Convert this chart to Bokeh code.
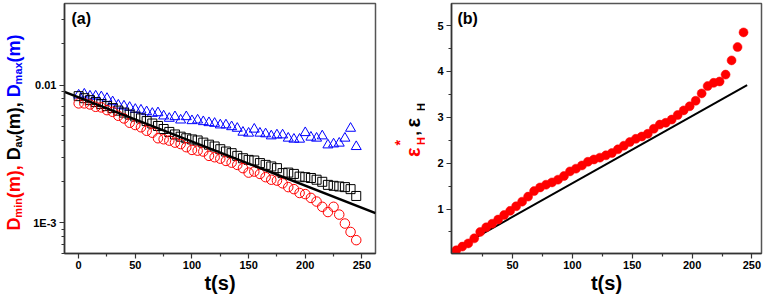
from bokeh.plotting import figure
from bokeh.models import Range1d, FixedTicker, Label
from bokeh.layouts import row
from bokeh.core.properties import value
from bokeh.embed import file_html
from bokeh.resources import INLINE

# ---------------- data ----------------
t_a = [0, 5, 10, 15, 20, 25, 30, 35, 40, 45, 50, 55, 60, 65, 70, 75, 80, 85, 90, 95,
       100, 105, 110, 115, 120, 125, 130, 135, 140, 145, 150, 155, 160, 165, 170, 175,
       180, 185, 190, 195, 200, 205, 210, 215, 220, 225, 230, 235, 240, 245]
d_min = [0.00738, 0.00738, 0.00725, 0.00697, 0.00690, 0.00659, 0.00641, 0.00600, 0.00574, 0.00534,
         0.00514, 0.00495, 0.00467, 0.00452, 0.00412, 0.00405, 0.00396, 0.00383, 0.00374, 0.00355,
         0.00339, 0.00335, 0.00330, 0.00307, 0.00300, 0.00293, 0.00282, 0.00274, 0.00264, 0.00250,
         0.00232, 0.00236, 0.00227, 0.00215, 0.00206, 0.00203, 0.00194, 0.00182, 0.00176, 0.00165,
         0.00162, 0.00152, 0.00143, 0.00131, 0.00120, 0.00131, 0.00115, 0.00099, 0.00086, 0.00075]
d_av = [0.00833, 0.00805, 0.00779, 0.00754, 0.00729, 0.00705, 0.00682, 0.00654, 0.00633, 0.00612,
        0.00592, 0.00574, 0.00549, 0.00527, 0.00506, 0.00481, 0.00458, 0.00439, 0.00423, 0.00412,
        0.00404, 0.00397, 0.00383, 0.00370, 0.00359, 0.00343, 0.00330, 0.00321, 0.00307, 0.00295,
        0.00287, 0.00284, 0.00272, 0.00264, 0.00257, 0.00250, 0.00230, 0.00232, 0.00227, 0.00217,
        0.00215, 0.00212, 0.00206, 0.00199, 0.00189, 0.00186, 0.00184, 0.00182, 0.00176, 0.00157]
d_max = [0.00847, 0.00861, 0.00833, 0.00833, 0.00823, 0.00801, 0.00757, 0.00716, 0.00705, 0.00690,
         0.00667, 0.00659, 0.00641, 0.00624, 0.00630, 0.00597, 0.00574, 0.00590, 0.00558, 0.00590,
         0.00552, 0.00558, 0.00543, 0.00534, 0.00528, 0.00514, 0.00514, 0.00499, 0.00486, 0.00455,
         0.00448, 0.00479, 0.00448, 0.00443, 0.00428, 0.00435, 0.00435, 0.00412, 0.00405, 0.00405,
         0.00452, 0.00419, 0.00412, 0.00428, 0.00368, 0.00374, 0.00379, 0.00412, 0.00486, 0.00358]
fit_a_t = [-12.5, 262]
fit_a_d = [0.00895, 0.00118]

t_b = [3, 8, 13, 18, 23, 28, 33, 38, 43, 48, 53, 58, 63, 68, 73, 78, 83, 88, 93, 98,
       103, 108, 113, 118, 123, 128, 133, 138, 143, 148, 153, 158, 163, 168, 173, 178,
       183, 188, 193, 198, 203, 208, 213, 218, 223, 228, 233, 238, 243]
eps_star = [0.10, 0.18, 0.25, 0.36, 0.50, 0.60, 0.68, 0.77, 0.87, 0.96,
            1.06, 1.16, 1.27, 1.39, 1.47, 1.53, 1.58, 1.64, 1.72, 1.82,
            1.88, 1.95, 2.03, 2.08, 2.12, 2.17, 2.22, 2.30, 2.38, 2.46,
            2.53, 2.58, 2.64, 2.75, 2.84, 2.88, 2.95, 3.05, 3.15, 3.24,
            3.36, 3.52, 3.68, 3.75, 3.78, 3.93, 4.24, 4.53, 4.85]
fit_b_t = [3, 246]
fit_b_e = [0.14, 3.70]

xa_ticks = [0, 50, 100, 150, 200, 250]
xa_minor = [25, 75, 125, 175, 225]
ya_ticks = [0.001, 0.01]
ya_labels = {0.001: "1E-3", 0.01: "0.01"}
ya_minor = [0.0006, 0.0007, 0.0008, 0.0009, 0.002, 0.003, 0.004, 0.005, 0.006, 0.007,
            0.008, 0.009, 0.02, 0.03]
xb_ticks = [50, 100, 150, 200, 250]
xb_minor = [25, 75, 125, 175, 225]
yb_ticks = [1, 2, 3, 4, 5]
yb_minor = [0.5, 1.5, 2.5, 3.5, 4.5]

FONT = "Liberation Sans"
RED = "#ff0000"
BLUE = "#0000ff"
H = 296
MB_TOP, MB_BOT = 3, 42
R = 1.5708


def style(p, xt, xm, yt, ym):
    p.grid.visible = False
    p.background_fill_color = "white"
    p.border_fill_color = "white"
    p.outline_line_color = "#555555"
    p.outline_line_width = 1.5
    p.xaxis.ticker = FixedTicker(ticks=xt, minor_ticks=xm)
    p.yaxis.ticker = FixedTicker(ticks=yt, minor_ticks=ym)
    for ax in p.axis:
        ax.axis_line_color = "#333333"
        ax.axis_line_width = 1.5
        ax.major_tick_line_color = "#333333"
        ax.minor_tick_line_color = "#333333"
        ax.major_tick_line_width = 1.2
        ax.minor_tick_line_width = 1.2
        ax.major_tick_out = 5
        ax.major_tick_in = 0
        ax.minor_tick_out = 3
        ax.minor_tick_in = 0
        ax.major_label_text_font = FONT
        ax.major_label_text_font_style = "bold"
        ax.major_label_text_font_size = "11px"
        ax.major_label_text_color = "black"
    p.xaxis.major_label_standoff = 2
    p.yaxis.major_label_standoff = 3
    p.xaxis.axis_label = "t(s)"
    p.xaxis.axis_label_text_font = FONT
    p.xaxis.axis_label_text_font_style = "bold"
    p.xaxis.axis_label_text_font_size = "20px"
    p.xaxis.axis_label_text_color = "black"
    p.xaxis.axis_label_standoff = 0


def label_strip(width):
    """Narrow figure without axes that holds a rotated, multi-coloured axis title.
    The row aligns its frame with the plots' frames (page y 3..254), so the
    y range is chosen so that data y = H - page y."""
    f = figure(width=width, height=H, x_range=Range1d(0, width),
               y_range=Range1d(H - (H - MB_BOT), H - MB_TOP),
               output_backend="svg", toolbar_location=None,
               x_axis_location=None, y_axis_location=None,
               min_border_left=0, min_border_right=0,
               min_border_top=MB_TOP, min_border_bottom=MB_BOT)
    f.grid.visible = False
    f.outline_line_color = None
    f.background_fill_color = "white"
    f.border_fill_color = "white"
    return f


def put(f, s, x, y, size, color):
    f.text(x=[x], y=[y], text=[s], angle=R,
           text_font=value(FONT), text_font_style=value("bold"),
           text_font_size=value(f"{size}px"), text_color=value(color),
           text_align=value("left"), text_baseline=value("alphabetic"))


# ---------------- y title strip for (a) ----------------
la = label_strip(30)
W = {"D": .722, "m": .889, "i": .278, "n": .611, "a": .556, "v": .556, "x": .556,
     "(": .333, ")": .333, ",": .278, " ": .278}
MAIN, SUB = 18, 11
segs = [("D", MAIN, RED), ("min", SUB, RED), ("(m), ", MAIN, RED),
        ("D", MAIN, "black"), ("av", SUB, "black"), ("(m), ", MAIN, "black"),
        ("D", MAIN, BLUE), ("max", SUB, BLUE), ("(m)", MAIN, BLUE)]
pos = H - 231.0
for s, sz, col in segs:
    put(la, s.rstrip(), 13.5 if sz == MAIN else 17.5, pos, sz, col)
    pos += sum(W[c] for c in s) * sz

# ---------------- panel (a) ----------------
p1 = figure(width=350, height=H, y_axis_type="log",
            x_range=Range1d(-12.5, 262), y_range=Range1d(6.0e-4, 0.0392),
            output_backend="svg", toolbar_location=None,
            min_border_left=33, min_border_right=5,
            min_border_top=MB_TOP, min_border_bottom=MB_BOT)
style(p1, xa_ticks, xa_minor, ya_ticks, ya_minor)
p1.yaxis.major_label_overrides = ya_labels

p1.scatter(t_a, d_max, marker="triangle", size=10, fill_color=None,
           line_color=BLUE, line_width=1)
p1.scatter(t_a, d_av, marker="square", size=9, fill_color=None,
           line_color="black", line_width=1)
p1.scatter(t_a, d_min, marker="circle", size=9.5, fill_color=None,
           line_color=RED, line_width=1)
p1.line(fit_a_t, fit_a_d, line_color="black", line_width=2.5)

p1.add_layout(Label(x=7, y=H - MB_TOP - MB_BOT - 7, x_units="screen", y_units="screen",
                    text="(a)", text_font=FONT, text_font_style="bold",
                    text_font_size="16px", text_color="black", text_baseline="top"))

# ---------------- y title strip for (b) ----------------
lb = label_strip(45)
put(lb, "\u03b5", 32, H - 157, 20, RED)
put(lb, "*", 19, H - 145.5, 14, RED)
put(lb, "H", 40, H - 145, 11, RED)
put(lb, ",", 32, H - 135.5, 16, "black")
put(lb, "\u03b5", 32, H - 127.5, 20, "black")
put(lb, "H", 40, H - 111, 11, "black")

# ---------------- panel (b) ----------------
p2 = figure(width=338, height=H,
            x_range=Range1d(-1, 258), y_range=Range1d(0.03, 5.48),
            output_backend="svg", toolbar_location=None,
            min_border_left=26, min_border_right=2,
            min_border_top=MB_TOP, min_border_bottom=MB_BOT)
style(p2, xb_ticks, xb_minor, yb_ticks, yb_minor)

p2.line(fit_b_t, fit_b_e, line_color="black", line_width=2)
p2.scatter(t_b, eps_star, marker="circle", size=9, fill_color=RED,
           line_color=RED, line_width=0.5)

p2.add_layout(Label(x=6, y=H - MB_TOP - MB_BOT - 7, x_units="screen", y_units="screen",
                    text="(b)", text_font=FONT, text_font_style="bold",
                    text_font_size="16px", text_color="black", text_baseline="top"))

layout = row(la, p1, lb, p2)
open("out.html", "w").write(file_html(layout, INLINE))
